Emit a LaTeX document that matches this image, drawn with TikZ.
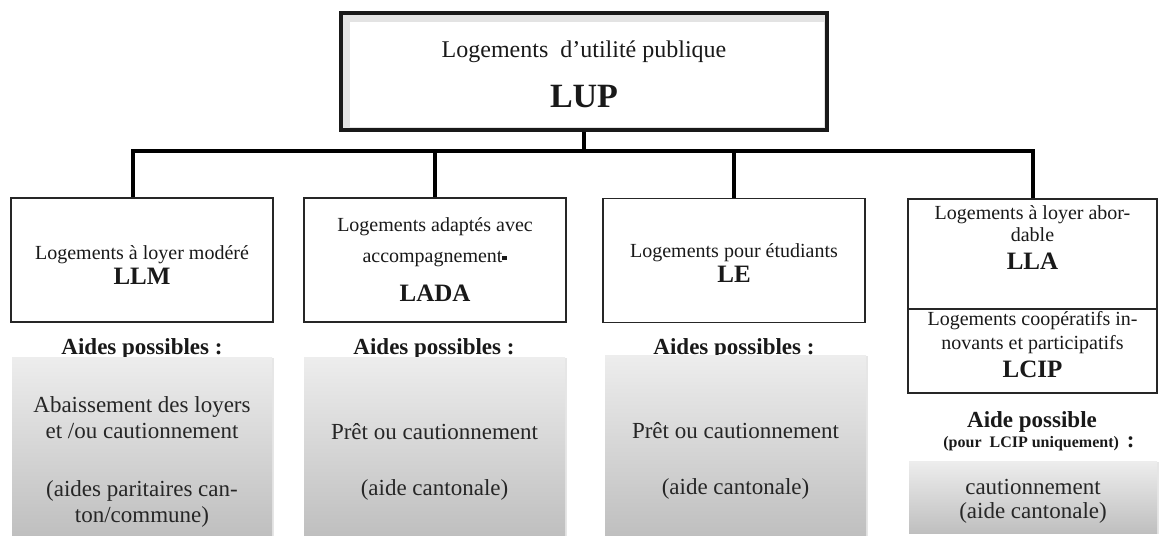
\documentclass[tikz,border=0pt]{standalone}
\usepackage{fontspec}
\setmainfont{Liberation Serif}
\usetikzlibrary{positioning,shadows}

\tikzset{
  rootbox/.style={draw=black!90, line width=1.6pt, fill=gray!22,
    minimum width=243pt, minimum height=58.5pt},
  unit/.style={draw=black!85, line width=0.8pt, fill=white,
    minimum width=131pt, minimum height=62pt},
  caption/.style={align=center, text=black!90, inner sep=0pt,
    font=\fontsize{10}{12}\selectfont},
  branch/.style={line width=1.8pt, black, line join=miter},
  aid/.style={top color=gray!14, bottom color=gray!50,
    drop shadow={opacity=0.2, shadow xshift=1pt, shadow yshift=-0.6pt}},
  aidtext/.style={align=center, text=black!85, inner sep=0pt,
    font=\fontsize{11.5}{13}\selectfont},
  aidlabel/.style={text=black!90, inner sep=0pt,
    font=\fontsize{11.5}{13}\selectfont\bfseries},
}

\newcommand{\acro}[1]{{\fontsize{12.5}{15}\selectfont\bfseries #1}}

\begin{document}
\begin{tikzpicture}[x=0.5pt,y=-0.5pt]
  \useasboundingbox (0,0) rectangle (1159,536);

  % root
  \node[rootbox] (lup) at (584,71.5) {};
  \fill[white] ([shift={(5.5pt,-5.5pt)}]lup.north west) rectangle ([shift={(-2.5pt,2.5pt)}]lup.south east);
  \node[caption, font=\fontsize{12}{14}\selectfont] (lup title) at (584,74)
    {Logements~ d’utilité publique\\[11pt]{\fontsize{17}{20}\selectfont\bfseries LUP}};

  % categories
  \node[unit] (llm) at (142,260) {};
  \node[unit] (lada) at (435,260) {};
  \node[unit] (le) at (734,260.5) {};
  \node[unit, minimum width=124.5pt, minimum height=55pt] (lla) at (1032.5,254) {};
  \node[unit, minimum width=124.5pt, minimum height=42pt] (lcip) at (1032.5,351) {};

  \node[caption] (llm title) at (142,265) {Logements à loyer modéré\\[0.5pt]\acro{LLM}};
  \node[caption] (lada title) at (435,260)
    {Logements adaptés avec\\[3.5pt]accompagnement\rule[1.5pt]{2.5pt}{1.8pt}\\[7.5pt]\acro{LADA}};
  \node[caption] (le title) at (734,263) {Logements pour étudiants\\[0.5pt]\acro{LE}};
  \node[caption] (lla title) at (1032.5,237.5)
    {Logements à loyer abor-\\[-1pt]dable\\[2pt]\acro{LLA}};
  \node[caption] (lcip title) at (1032.5,344.5)
    {Logements coopératifs in-\\[0pt]novants et participatifs\\[2.25pt]\acro{LCIP}};

  % tree lines
  \coordinate (bus west) at (133,151);
  \coordinate (bus east) at (1033,151);
  \draw[branch, line width=2.4pt] (lup.south) -- (lup.south |- bus west);
  \draw[branch] (bus west |- llm.north) -- (bus west) -- (bus east) -- (bus east |- lla.north);
  \draw[branch] (lada.north |- bus west) -- (lada.north);
  \draw[branch] (le.north |- bus west) -- (le.north);

  % aids
  \node[aidlabel] (llm aids) at (142,349) {Aides possibles :};
  \node[aidlabel] (lada aids) at (434,349) {Aides possibles :};
  \node[aidlabel] (le aids) at (734,349) {Aides possibles :};
  \node[aidlabel] (lcip aids) at (1032,422) {Aide possible};
  \node[aidlabel, font=\fontsize{8}{9}\selectfont\bfseries] (lcip note) at (1039,444)
    {(pour~ LCIP uniquement)~ {\fontsize{11.5}{13}\selectfont :}};

  \node[aid, minimum width=130pt, minimum height=89pt] (llm aid) at (142,446) {};
  \node[aid, minimum width=130.5pt, minimum height=89pt] (lada aid) at (434.5,446) {};
  \node[aid, minimum width=130.5pt, minimum height=90pt] (le aid) at (735.5,445) {};
  \node[aid, minimum width=124pt, minimum height=36pt] (lcip aid) at (1033,497) {};

  \node[aidtext] (llm aid text) at (142,462)
    {Abaissement des loyers\\et /ou cautionnement\\[16pt](aides paritaires can-\\ton/commune)};
  \node[aidtext] (lada aid text) at (434.5,462) {Prêt ou cautionnement\\[15pt](aide cantonale)};
  \node[aidtext] (le aid text) at (735.5,461) {Prêt ou cautionnement\\[15pt](aide cantonale)};
  \node[aidtext] (lcip aid text) at (1033,501) {cautionnement\\[-1pt](aide cantonale)};
\end{tikzpicture}
\end{document}
